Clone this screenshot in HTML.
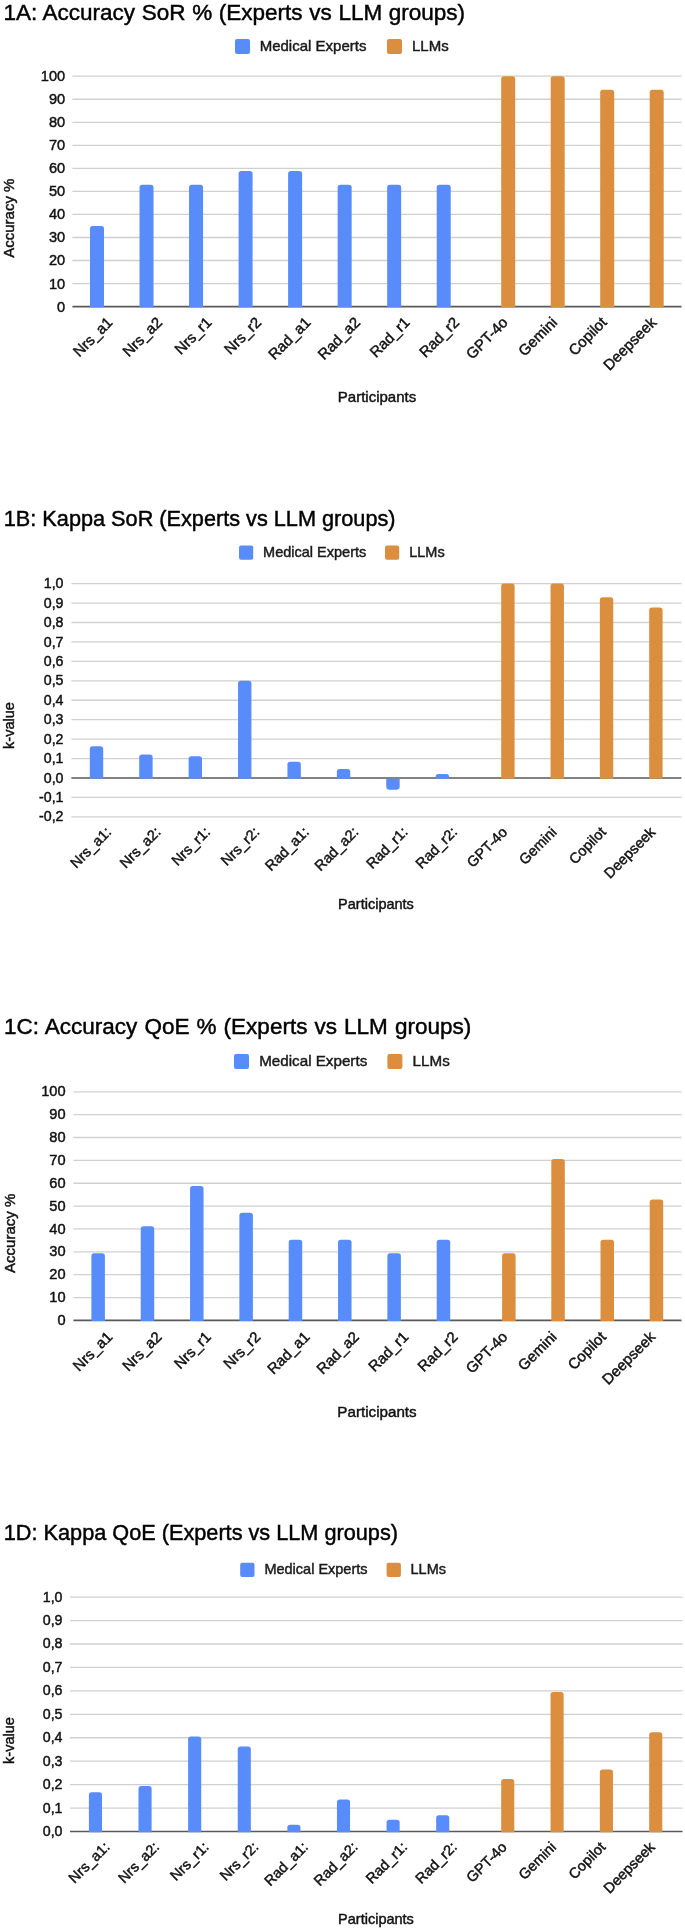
<!DOCTYPE html>
<html><head><meta charset="utf-8"><title>Experts vs LLM groups</title>
<style>
html,body{margin:0;padding:0;background:#fff;}
body{width:685px;height:1930px;overflow:hidden;}
svg{display:block;font-family:"Liberation Sans", sans-serif;}
text{stroke-width:0.45px;}
svg{filter:blur(0.3px);}
</style></head><body>
<svg width="685" height="1930" viewBox="0 0 685 1930">
<rect width="685" height="1930" fill="#fff"/>
<text x="3.4" y="19.8" font-size="22.5" word-spacing="0.4" fill="#000" stroke="#000">1A: Accuracy SoR % (Experts vs LLM groups)</text>
<rect x="235" y="39" width="15" height="15" rx="2" fill="#588cfb"/>
<text x="259.7" y="51.2" font-size="15" fill="#1a1a1a" stroke="#1a1a1a">Medical Experts</text>
<rect x="387" y="39" width="15" height="15" rx="2" fill="#da8e3e"/>
<text x="412" y="51.2" font-size="15" fill="#1a1a1a" stroke="#1a1a1a">LLMs</text>
<text x="65.2" y="311.56" font-size="14.6" text-anchor="end" fill="#111111" stroke="#111111">0</text>
<line x1="72.4" x2="681.5" y1="283.56" y2="283.56" stroke="#d0d0d0" stroke-width="1.3"/>
<text x="65.2" y="288.52" font-size="14.6" text-anchor="end" fill="#111111" stroke="#111111">10</text>
<line x1="72.4" x2="681.5" y1="260.52" y2="260.52" stroke="#d0d0d0" stroke-width="1.3"/>
<text x="65.2" y="265.48" font-size="14.6" text-anchor="end" fill="#111111" stroke="#111111">20</text>
<line x1="72.4" x2="681.5" y1="237.48" y2="237.48" stroke="#d0d0d0" stroke-width="1.3"/>
<text x="65.2" y="242.44" font-size="14.6" text-anchor="end" fill="#111111" stroke="#111111">30</text>
<line x1="72.4" x2="681.5" y1="214.44" y2="214.44" stroke="#d0d0d0" stroke-width="1.3"/>
<text x="65.2" y="219.4" font-size="14.6" text-anchor="end" fill="#111111" stroke="#111111">40</text>
<line x1="72.4" x2="681.5" y1="191.4" y2="191.4" stroke="#d0d0d0" stroke-width="1.3"/>
<text x="65.2" y="196.36" font-size="14.6" text-anchor="end" fill="#111111" stroke="#111111">50</text>
<line x1="72.4" x2="681.5" y1="168.36" y2="168.36" stroke="#d0d0d0" stroke-width="1.3"/>
<text x="65.2" y="173.32" font-size="14.6" text-anchor="end" fill="#111111" stroke="#111111">60</text>
<line x1="72.4" x2="681.5" y1="145.32" y2="145.32" stroke="#d0d0d0" stroke-width="1.3"/>
<text x="65.2" y="150.28" font-size="14.6" text-anchor="end" fill="#111111" stroke="#111111">70</text>
<line x1="72.4" x2="681.5" y1="122.28" y2="122.28" stroke="#d0d0d0" stroke-width="1.3"/>
<text x="65.2" y="127.24" font-size="14.6" text-anchor="end" fill="#111111" stroke="#111111">80</text>
<line x1="72.4" x2="681.5" y1="99.24" y2="99.24" stroke="#d0d0d0" stroke-width="1.3"/>
<text x="65.2" y="104.2" font-size="14.6" text-anchor="end" fill="#111111" stroke="#111111">90</text>
<line x1="72.4" x2="681.5" y1="76.2" y2="76.2" stroke="#d0d0d0" stroke-width="1.3"/>
<text x="65.2" y="81.16" font-size="14.6" text-anchor="end" fill="#111111" stroke="#111111">100</text>
<line x1="72.4" x2="681.5" y1="306.6" y2="306.6" stroke="#595959" stroke-width="1.6"/>
<path d="M90,307.3 V228.76 Q90,225.96 92.8,225.96 H101.2 Q104,225.96 104,228.76 V307.3 Z" fill="#588cfb"/>
<path d="M139.53,307.3 V187.52 Q139.53,184.72 142.33,184.72 H150.73 Q153.53,184.72 153.53,187.52 V307.3 Z" fill="#588cfb"/>
<path d="M189.06,307.3 V187.52 Q189.06,184.72 191.86,184.72 H200.26 Q203.06,184.72 203.06,187.52 V307.3 Z" fill="#588cfb"/>
<path d="M238.59,307.3 V173.92 Q238.59,171.12 241.39,171.12 H249.79 Q252.59,171.12 252.59,173.92 V307.3 Z" fill="#588cfb"/>
<path d="M288.12,307.3 V173.92 Q288.12,171.12 290.92,171.12 H299.32 Q302.12,171.12 302.12,173.92 V307.3 Z" fill="#588cfb"/>
<path d="M337.65,307.3 V187.52 Q337.65,184.72 340.45,184.72 H348.85 Q351.65,184.72 351.65,187.52 V307.3 Z" fill="#588cfb"/>
<path d="M387.18,307.3 V187.52 Q387.18,184.72 389.98,184.72 H398.38 Q401.18,184.72 401.18,187.52 V307.3 Z" fill="#588cfb"/>
<path d="M436.71,307.3 V187.52 Q436.71,184.72 439.51,184.72 H447.91 Q450.71,184.72 450.71,187.52 V307.3 Z" fill="#588cfb"/>
<path d="M501.2,307.3 V79 Q501.2,76.2 504,76.2 H512.4 Q515.2,76.2 515.2,79 V307.3 Z" fill="#da8e3e"/>
<path d="M550.7,307.3 V79 Q550.7,76.2 553.5,76.2 H561.9 Q564.7,76.2 564.7,79 V307.3 Z" fill="#da8e3e"/>
<path d="M600.2,307.3 V92.59 Q600.2,89.79 603,89.79 H611.4 Q614.2,89.79 614.2,92.59 V307.3 Z" fill="#da8e3e"/>
<path d="M649.7,307.3 V92.59 Q649.7,89.79 652.5,89.79 H660.9 Q663.7,89.79 663.7,92.59 V307.3 Z" fill="#da8e3e"/>
<text transform="translate(113.5,323.4) rotate(-45)" text-anchor="end" font-size="15" fill="#111111" stroke="#111111">Nrs_a1</text>
<text transform="translate(163.03,323.4) rotate(-45)" text-anchor="end" font-size="15" fill="#111111" stroke="#111111">Nrs_a2</text>
<text transform="translate(212.56,323.4) rotate(-45)" text-anchor="end" font-size="15" fill="#111111" stroke="#111111">Nrs_r1</text>
<text transform="translate(262.09,323.4) rotate(-45)" text-anchor="end" font-size="15" fill="#111111" stroke="#111111">Nrs_r2</text>
<text transform="translate(311.62,323.4) rotate(-45)" text-anchor="end" font-size="15" fill="#111111" stroke="#111111">Rad_a1</text>
<text transform="translate(361.15,323.4) rotate(-45)" text-anchor="end" font-size="15" fill="#111111" stroke="#111111">Rad_a2</text>
<text transform="translate(410.68,323.4) rotate(-45)" text-anchor="end" font-size="15" fill="#111111" stroke="#111111">Rad_r1</text>
<text transform="translate(460.21,323.4) rotate(-45)" text-anchor="end" font-size="15" fill="#111111" stroke="#111111">Rad_r2</text>
<text transform="translate(508.7,323.4) rotate(-45)" text-anchor="end" font-size="15" fill="#111111" stroke="#111111">GPT-4o</text>
<text transform="translate(558.2,323.4) rotate(-45)" text-anchor="end" font-size="15" fill="#111111" stroke="#111111">Gemini</text>
<text transform="translate(607.7,323.4) rotate(-45)" text-anchor="end" font-size="15" fill="#111111" stroke="#111111">Copilot</text>
<text transform="translate(657.2,323.4) rotate(-45)" text-anchor="end" font-size="15" fill="#111111" stroke="#111111">Deepseek</text>
<text x="377" y="401.7" font-size="15" text-anchor="middle" fill="#111111" stroke="#111111">Participants</text>
<text transform="translate(14.1,218.2) rotate(-90)" text-anchor="middle" font-size="15" fill="#111111" stroke="#111111">Accuracy %</text>
<text x="3.8" y="526.3" font-size="21.7" word-spacing="0" fill="#000" stroke="#000">1B: Kappa SoR (Experts vs LLM groups)</text>
<rect x="239" y="545.6" width="14.2" height="14.2" rx="2" fill="#588cfb"/>
<text x="263.1" y="557.2" font-size="14.5" fill="#1a1a1a" stroke="#1a1a1a">Medical Experts</text>
<rect x="385" y="545.6" width="14.2" height="14.2" rx="2" fill="#da8e3e"/>
<text x="409.2" y="557.2" font-size="14.5" fill="#1a1a1a" stroke="#1a1a1a">LLMs</text>
<line x1="71.4" x2="681.5" y1="816.88" y2="816.88" stroke="#d0d0d0" stroke-width="1.3"/>
<text x="63.5" y="821.49" font-size="14.2" text-anchor="end" fill="#111111" stroke="#111111">-0,2</text>
<line x1="71.4" x2="681.5" y1="797.44" y2="797.44" stroke="#d0d0d0" stroke-width="1.3"/>
<text x="63.5" y="802.05" font-size="14.2" text-anchor="end" fill="#111111" stroke="#111111">-0,1</text>
<text x="63.5" y="782.61" font-size="14.2" text-anchor="end" fill="#111111" stroke="#111111">0,0</text>
<line x1="71.4" x2="681.5" y1="758.56" y2="758.56" stroke="#d0d0d0" stroke-width="1.3"/>
<text x="63.5" y="763.17" font-size="14.2" text-anchor="end" fill="#111111" stroke="#111111">0,1</text>
<line x1="71.4" x2="681.5" y1="739.12" y2="739.12" stroke="#d0d0d0" stroke-width="1.3"/>
<text x="63.5" y="743.73" font-size="14.2" text-anchor="end" fill="#111111" stroke="#111111">0,2</text>
<line x1="71.4" x2="681.5" y1="719.68" y2="719.68" stroke="#d0d0d0" stroke-width="1.3"/>
<text x="63.5" y="724.29" font-size="14.2" text-anchor="end" fill="#111111" stroke="#111111">0,3</text>
<line x1="71.4" x2="681.5" y1="700.24" y2="700.24" stroke="#d0d0d0" stroke-width="1.3"/>
<text x="63.5" y="704.85" font-size="14.2" text-anchor="end" fill="#111111" stroke="#111111">0,4</text>
<line x1="71.4" x2="681.5" y1="680.8" y2="680.8" stroke="#d0d0d0" stroke-width="1.3"/>
<text x="63.5" y="685.41" font-size="14.2" text-anchor="end" fill="#111111" stroke="#111111">0,5</text>
<line x1="71.4" x2="681.5" y1="661.36" y2="661.36" stroke="#d0d0d0" stroke-width="1.3"/>
<text x="63.5" y="665.97" font-size="14.2" text-anchor="end" fill="#111111" stroke="#111111">0,6</text>
<line x1="71.4" x2="681.5" y1="641.92" y2="641.92" stroke="#d0d0d0" stroke-width="1.3"/>
<text x="63.5" y="646.53" font-size="14.2" text-anchor="end" fill="#111111" stroke="#111111">0,7</text>
<line x1="71.4" x2="681.5" y1="622.48" y2="622.48" stroke="#d0d0d0" stroke-width="1.3"/>
<text x="63.5" y="627.09" font-size="14.2" text-anchor="end" fill="#111111" stroke="#111111">0,8</text>
<line x1="71.4" x2="681.5" y1="603.04" y2="603.04" stroke="#d0d0d0" stroke-width="1.3"/>
<text x="63.5" y="607.65" font-size="14.2" text-anchor="end" fill="#111111" stroke="#111111">0,9</text>
<line x1="71.4" x2="681.5" y1="583.6" y2="583.6" stroke="#d0d0d0" stroke-width="1.3"/>
<text x="63.5" y="588.21" font-size="14.2" text-anchor="end" fill="#111111" stroke="#111111">1,0</text>
<line x1="71.4" x2="681.5" y1="778" y2="778" stroke="#595959" stroke-width="1.6"/>
<path d="M89.8,778.7 V749.11 Q89.8,746.31 92.6,746.31 H100.4 Q103.2,746.31 103.2,749.11 V778.7 Z" fill="#588cfb"/>
<path d="M139.21,778.7 V757.28 Q139.21,754.48 142.01,754.48 H149.81 Q152.61,754.48 152.61,757.28 V778.7 Z" fill="#588cfb"/>
<path d="M188.62,778.7 V759.03 Q188.62,756.23 191.42,756.23 H199.22 Q202.02,756.23 202.02,759.03 V778.7 Z" fill="#588cfb"/>
<path d="M238.03,778.7 V683.6 Q238.03,680.8 240.83,680.8 H248.63 Q251.43,680.8 251.43,683.6 V778.7 Z" fill="#588cfb"/>
<path d="M287.44,778.7 V764.66 Q287.44,761.86 290.24,761.86 H298.04 Q300.84,761.86 300.84,764.66 V778.7 Z" fill="#588cfb"/>
<path d="M336.85,778.7 V771.86 Q336.85,769.06 339.65,769.06 H347.45 Q350.25,769.06 350.25,771.86 V778.7 Z" fill="#588cfb"/>
<path d="M386.26,778.7 V786.86 Q386.26,789.66 389.06,789.66 H396.86 Q399.66,789.66 399.66,786.86 V778.7 Z" fill="#588cfb"/>
<path d="M435.67,778.7 V776.72 Q435.67,773.92 438.47,773.92 H446.27 Q449.07,773.92 449.07,776.72 V778.7 Z" fill="#588cfb"/>
<path d="M501.2,778.7 V586.4 Q501.2,583.6 504,583.6 H511.8 Q514.6,583.6 514.6,586.4 V778.7 Z" fill="#da8e3e"/>
<path d="M550.53,778.7 V586.4 Q550.53,583.6 553.33,583.6 H561.13 Q563.93,583.6 563.93,586.4 V778.7 Z" fill="#da8e3e"/>
<path d="M599.86,778.7 V600.01 Q599.86,597.21 602.66,597.21 H610.46 Q613.26,597.21 613.26,600.01 V778.7 Z" fill="#da8e3e"/>
<path d="M649.19,778.7 V610.31 Q649.19,607.51 651.99,607.51 H659.79 Q662.59,607.51 662.59,610.31 V778.7 Z" fill="#da8e3e"/>
<text transform="translate(112.2,833) rotate(-45)" text-anchor="end" font-size="14.5" fill="#111111" stroke="#111111">Nrs_a1:</text>
<text transform="translate(161.61,833) rotate(-45)" text-anchor="end" font-size="14.5" fill="#111111" stroke="#111111">Nrs_a2:</text>
<text transform="translate(211.02,833) rotate(-45)" text-anchor="end" font-size="14.5" fill="#111111" stroke="#111111">Nrs_r1:</text>
<text transform="translate(260.43,833) rotate(-45)" text-anchor="end" font-size="14.5" fill="#111111" stroke="#111111">Nrs_r2:</text>
<text transform="translate(309.84,833) rotate(-45)" text-anchor="end" font-size="14.5" fill="#111111" stroke="#111111">Rad_a1:</text>
<text transform="translate(359.25,833) rotate(-45)" text-anchor="end" font-size="14.5" fill="#111111" stroke="#111111">Rad_a2:</text>
<text transform="translate(408.66,833) rotate(-45)" text-anchor="end" font-size="14.5" fill="#111111" stroke="#111111">Rad_r1:</text>
<text transform="translate(458.07,833) rotate(-45)" text-anchor="end" font-size="14.5" fill="#111111" stroke="#111111">Rad_r2:</text>
<text transform="translate(508.2,833) rotate(-45)" text-anchor="end" font-size="14.5" fill="#111111" stroke="#111111">GPT-4o</text>
<text transform="translate(557.53,833) rotate(-45)" text-anchor="end" font-size="14.5" fill="#111111" stroke="#111111">Gemini</text>
<text transform="translate(606.86,833) rotate(-45)" text-anchor="end" font-size="14.5" fill="#111111" stroke="#111111">Copilot</text>
<text transform="translate(656.19,833) rotate(-45)" text-anchor="end" font-size="14.5" fill="#111111" stroke="#111111">Deepseek</text>
<text x="376" y="908.5" font-size="14.5" text-anchor="middle" fill="#111111" stroke="#111111">Participants</text>
<text transform="translate(14,725.5) rotate(-90)" text-anchor="middle" font-size="14.5" fill="#111111" stroke="#111111">k-value</text>
<text x="3.9" y="1033.5" font-size="22.5" word-spacing="0.85" fill="#000" stroke="#000">1C: Accuracy QoE % (Experts vs LLM groups)</text>
<rect x="234" y="1054" width="15" height="15" rx="2" fill="#588cfb"/>
<text x="259.2" y="1065.8" font-size="15.2" fill="#1a1a1a" stroke="#1a1a1a">Medical Experts</text>
<rect x="387.4" y="1054" width="15" height="15" rx="2" fill="#da8e3e"/>
<text x="412.6" y="1065.8" font-size="15.2" fill="#1a1a1a" stroke="#1a1a1a">LLMs</text>
<text x="65.6" y="1325.06" font-size="14.6" text-anchor="end" fill="#111111" stroke="#111111">0</text>
<line x1="73.4" x2="681.5" y1="1297.54" y2="1297.54" stroke="#d0d0d0" stroke-width="1.3"/>
<text x="65.6" y="1302.2" font-size="14.6" text-anchor="end" fill="#111111" stroke="#111111">10</text>
<line x1="73.4" x2="681.5" y1="1274.68" y2="1274.68" stroke="#d0d0d0" stroke-width="1.3"/>
<text x="65.6" y="1279.34" font-size="14.6" text-anchor="end" fill="#111111" stroke="#111111">20</text>
<line x1="73.4" x2="681.5" y1="1251.82" y2="1251.82" stroke="#d0d0d0" stroke-width="1.3"/>
<text x="65.6" y="1256.48" font-size="14.6" text-anchor="end" fill="#111111" stroke="#111111">30</text>
<line x1="73.4" x2="681.5" y1="1228.96" y2="1228.96" stroke="#d0d0d0" stroke-width="1.3"/>
<text x="65.6" y="1233.62" font-size="14.6" text-anchor="end" fill="#111111" stroke="#111111">40</text>
<line x1="73.4" x2="681.5" y1="1206.1" y2="1206.1" stroke="#d0d0d0" stroke-width="1.3"/>
<text x="65.6" y="1210.76" font-size="14.6" text-anchor="end" fill="#111111" stroke="#111111">50</text>
<line x1="73.4" x2="681.5" y1="1183.24" y2="1183.24" stroke="#d0d0d0" stroke-width="1.3"/>
<text x="65.6" y="1187.9" font-size="14.6" text-anchor="end" fill="#111111" stroke="#111111">60</text>
<line x1="73.4" x2="681.5" y1="1160.38" y2="1160.38" stroke="#d0d0d0" stroke-width="1.3"/>
<text x="65.6" y="1165.04" font-size="14.6" text-anchor="end" fill="#111111" stroke="#111111">70</text>
<line x1="73.4" x2="681.5" y1="1137.52" y2="1137.52" stroke="#d0d0d0" stroke-width="1.3"/>
<text x="65.6" y="1142.18" font-size="14.6" text-anchor="end" fill="#111111" stroke="#111111">80</text>
<line x1="73.4" x2="681.5" y1="1114.66" y2="1114.66" stroke="#d0d0d0" stroke-width="1.3"/>
<text x="65.6" y="1119.32" font-size="14.6" text-anchor="end" fill="#111111" stroke="#111111">90</text>
<line x1="73.4" x2="681.5" y1="1091.8" y2="1091.8" stroke="#d0d0d0" stroke-width="1.3"/>
<text x="65.6" y="1096.46" font-size="14.6" text-anchor="end" fill="#111111" stroke="#111111">100</text>
<line x1="73.4" x2="681.5" y1="1320.4" y2="1320.4" stroke="#595959" stroke-width="1.6"/>
<path d="M91.4,1321.1 V1255.99 Q91.4,1253.19 94.2,1253.19 H102.1 Q104.9,1253.19 104.9,1255.99 V1321.1 Z" fill="#588cfb"/>
<path d="M140.73,1321.1 V1229.02 Q140.73,1226.22 143.53,1226.22 H151.43 Q154.23,1226.22 154.23,1229.02 V1321.1 Z" fill="#588cfb"/>
<path d="M190.06,1321.1 V1188.78 Q190.06,1185.98 192.86,1185.98 H200.76 Q203.56,1185.98 203.56,1188.78 V1321.1 Z" fill="#588cfb"/>
<path d="M239.39,1321.1 V1215.53 Q239.39,1212.73 242.19,1212.73 H250.09 Q252.89,1212.73 252.89,1215.53 V1321.1 Z" fill="#588cfb"/>
<path d="M288.72,1321.1 V1242.5 Q288.72,1239.7 291.52,1239.7 H299.42 Q302.22,1239.7 302.22,1242.5 V1321.1 Z" fill="#588cfb"/>
<path d="M338.05,1321.1 V1242.5 Q338.05,1239.7 340.85,1239.7 H348.75 Q351.55,1239.7 351.55,1242.5 V1321.1 Z" fill="#588cfb"/>
<path d="M387.38,1321.1 V1255.99 Q387.38,1253.19 390.18,1253.19 H398.08 Q400.88,1253.19 400.88,1255.99 V1321.1 Z" fill="#588cfb"/>
<path d="M436.71,1321.1 V1242.5 Q436.71,1239.7 439.51,1239.7 H447.41 Q450.21,1239.7 450.21,1242.5 V1321.1 Z" fill="#588cfb"/>
<path d="M502.1,1321.1 V1255.99 Q502.1,1253.19 504.9,1253.19 H512.8 Q515.6,1253.19 515.6,1255.99 V1321.1 Z" fill="#da8e3e"/>
<path d="M551.3,1321.1 V1161.81 Q551.3,1159.01 554.1,1159.01 H562 Q564.8,1159.01 564.8,1161.81 V1321.1 Z" fill="#da8e3e"/>
<path d="M600.5,1321.1 V1242.5 Q600.5,1239.7 603.3,1239.7 H611.2 Q614,1239.7 614,1242.5 V1321.1 Z" fill="#da8e3e"/>
<path d="M649.7,1321.1 V1202.27 Q649.7,1199.47 652.5,1199.47 H660.4 Q663.2,1199.47 663.2,1202.27 V1321.1 Z" fill="#da8e3e"/>
<text transform="translate(113.3,1337.8) rotate(-45)" text-anchor="end" font-size="15" fill="#111111" stroke="#111111">Nrs_a1</text>
<text transform="translate(162.63,1337.8) rotate(-45)" text-anchor="end" font-size="15" fill="#111111" stroke="#111111">Nrs_a2</text>
<text transform="translate(211.96,1337.8) rotate(-45)" text-anchor="end" font-size="15" fill="#111111" stroke="#111111">Nrs_r1</text>
<text transform="translate(261.29,1337.8) rotate(-45)" text-anchor="end" font-size="15" fill="#111111" stroke="#111111">Nrs_r2</text>
<text transform="translate(310.62,1337.8) rotate(-45)" text-anchor="end" font-size="15" fill="#111111" stroke="#111111">Rad_a1</text>
<text transform="translate(359.95,1337.8) rotate(-45)" text-anchor="end" font-size="15" fill="#111111" stroke="#111111">Rad_a2</text>
<text transform="translate(409.28,1337.8) rotate(-45)" text-anchor="end" font-size="15" fill="#111111" stroke="#111111">Rad_r1</text>
<text transform="translate(458.61,1337.8) rotate(-45)" text-anchor="end" font-size="15" fill="#111111" stroke="#111111">Rad_r2</text>
<text transform="translate(508.5,1337.8) rotate(-45)" text-anchor="end" font-size="15" fill="#111111" stroke="#111111">GPT-4o</text>
<text transform="translate(557.7,1337.8) rotate(-45)" text-anchor="end" font-size="15" fill="#111111" stroke="#111111">Gemini</text>
<text transform="translate(606.9,1337.8) rotate(-45)" text-anchor="end" font-size="15" fill="#111111" stroke="#111111">Copilot</text>
<text transform="translate(656.1,1337.8) rotate(-45)" text-anchor="end" font-size="15" fill="#111111" stroke="#111111">Deepseek</text>
<text x="377" y="1416.7" font-size="15.2" text-anchor="middle" fill="#111111" stroke="#111111">Participants</text>
<text transform="translate(14.6,1233.3) rotate(-90)" text-anchor="middle" font-size="15" fill="#111111" stroke="#111111">Accuracy %</text>
<text x="3.8" y="1540.1" font-size="21.7" word-spacing="0" fill="#000" stroke="#000">1D: Kappa QoE (Experts vs LLM groups)</text>
<rect x="240.2" y="1562.7" width="14.3" height="14.3" rx="2" fill="#588cfb"/>
<text x="264.4" y="1574" font-size="14.5" fill="#1a1a1a" stroke="#1a1a1a">Medical Experts</text>
<rect x="386.6" y="1562.7" width="14.3" height="14.3" rx="2" fill="#da8e3e"/>
<text x="410.5" y="1574" font-size="14.5" fill="#1a1a1a" stroke="#1a1a1a">LLMs</text>
<text x="62.5" y="1836.01" font-size="14.2" text-anchor="end" fill="#111111" stroke="#111111">0,0</text>
<line x1="70" x2="682.5" y1="1808.06" y2="1808.06" stroke="#d0d0d0" stroke-width="1.3"/>
<text x="62.5" y="1812.57" font-size="14.2" text-anchor="end" fill="#111111" stroke="#111111">0,1</text>
<line x1="70" x2="682.5" y1="1784.62" y2="1784.62" stroke="#d0d0d0" stroke-width="1.3"/>
<text x="62.5" y="1789.13" font-size="14.2" text-anchor="end" fill="#111111" stroke="#111111">0,2</text>
<line x1="70" x2="682.5" y1="1761.18" y2="1761.18" stroke="#d0d0d0" stroke-width="1.3"/>
<text x="62.5" y="1765.69" font-size="14.2" text-anchor="end" fill="#111111" stroke="#111111">0,3</text>
<line x1="70" x2="682.5" y1="1737.74" y2="1737.74" stroke="#d0d0d0" stroke-width="1.3"/>
<text x="62.5" y="1742.25" font-size="14.2" text-anchor="end" fill="#111111" stroke="#111111">0,4</text>
<line x1="70" x2="682.5" y1="1714.3" y2="1714.3" stroke="#d0d0d0" stroke-width="1.3"/>
<text x="62.5" y="1718.81" font-size="14.2" text-anchor="end" fill="#111111" stroke="#111111">0,5</text>
<line x1="70" x2="682.5" y1="1690.86" y2="1690.86" stroke="#d0d0d0" stroke-width="1.3"/>
<text x="62.5" y="1695.37" font-size="14.2" text-anchor="end" fill="#111111" stroke="#111111">0,6</text>
<line x1="70" x2="682.5" y1="1667.42" y2="1667.42" stroke="#d0d0d0" stroke-width="1.3"/>
<text x="62.5" y="1671.93" font-size="14.2" text-anchor="end" fill="#111111" stroke="#111111">0,7</text>
<line x1="70" x2="682.5" y1="1643.98" y2="1643.98" stroke="#d0d0d0" stroke-width="1.3"/>
<text x="62.5" y="1648.49" font-size="14.2" text-anchor="end" fill="#111111" stroke="#111111">0,8</text>
<line x1="70" x2="682.5" y1="1620.54" y2="1620.54" stroke="#d0d0d0" stroke-width="1.3"/>
<text x="62.5" y="1625.05" font-size="14.2" text-anchor="end" fill="#111111" stroke="#111111">0,9</text>
<line x1="70" x2="682.5" y1="1597.1" y2="1597.1" stroke="#d0d0d0" stroke-width="1.3"/>
<text x="62.5" y="1601.61" font-size="14.2" text-anchor="end" fill="#111111" stroke="#111111">1,0</text>
<line x1="70" x2="682.5" y1="1831.5" y2="1831.5" stroke="#595959" stroke-width="1.6"/>
<path d="M88.9,1832.2 V1795.16 Q88.9,1792.36 91.7,1792.36 H99.2 Q102,1792.36 102,1795.16 V1832.2 Z" fill="#588cfb"/>
<path d="M138.51,1832.2 V1788.83 Q138.51,1786.03 141.31,1786.03 H148.81 Q151.61,1786.03 151.61,1788.83 V1832.2 Z" fill="#588cfb"/>
<path d="M188.12,1832.2 V1739.37 Q188.12,1736.57 190.92,1736.57 H198.42 Q201.22,1736.57 201.22,1739.37 V1832.2 Z" fill="#588cfb"/>
<path d="M237.73,1832.2 V1749.21 Q237.73,1746.41 240.53,1746.41 H248.03 Q250.83,1746.41 250.83,1749.21 V1832.2 Z" fill="#588cfb"/>
<path d="M287.34,1832.2 V1827.5 Q287.34,1824.7 290.14,1824.7 H297.64 Q300.44,1824.7 300.44,1827.5 V1832.2 Z" fill="#588cfb"/>
<path d="M336.95,1832.2 V1802.19 Q336.95,1799.39 339.75,1799.39 H347.25 Q350.05,1799.39 350.05,1802.19 V1832.2 Z" fill="#588cfb"/>
<path d="M386.56,1832.2 V1822.58 Q386.56,1819.78 389.36,1819.78 H396.86 Q399.66,1819.78 399.66,1822.58 V1832.2 Z" fill="#588cfb"/>
<path d="M436.17,1832.2 V1818.13 Q436.17,1815.33 438.97,1815.33 H446.47 Q449.27,1815.33 449.27,1818.13 V1832.2 Z" fill="#588cfb"/>
<path d="M501.2,1832.2 V1781.79 Q501.2,1778.99 504,1778.99 H511.5 Q514.3,1778.99 514.3,1781.79 V1832.2 Z" fill="#da8e3e"/>
<path d="M550.53,1832.2 V1694.83 Q550.53,1692.03 553.33,1692.03 H560.83 Q563.63,1692.03 563.63,1694.83 V1832.2 Z" fill="#da8e3e"/>
<path d="M599.86,1832.2 V1772.18 Q599.86,1769.38 602.66,1769.38 H610.16 Q612.96,1769.38 612.96,1772.18 V1832.2 Z" fill="#da8e3e"/>
<path d="M649.19,1832.2 V1735.15 Q649.19,1732.35 651.99,1732.35 H659.49 Q662.29,1732.35 662.29,1735.15 V1832.2 Z" fill="#da8e3e"/>
<text transform="translate(110.5,1848) rotate(-45)" text-anchor="end" font-size="14.5" fill="#111111" stroke="#111111">Nrs_a1:</text>
<text transform="translate(160.11,1848) rotate(-45)" text-anchor="end" font-size="14.5" fill="#111111" stroke="#111111">Nrs_a2:</text>
<text transform="translate(209.72,1848) rotate(-45)" text-anchor="end" font-size="14.5" fill="#111111" stroke="#111111">Nrs_r1:</text>
<text transform="translate(259.33,1848) rotate(-45)" text-anchor="end" font-size="14.5" fill="#111111" stroke="#111111">Nrs_r2:</text>
<text transform="translate(308.94,1848) rotate(-45)" text-anchor="end" font-size="14.5" fill="#111111" stroke="#111111">Rad_a1:</text>
<text transform="translate(358.55,1848) rotate(-45)" text-anchor="end" font-size="14.5" fill="#111111" stroke="#111111">Rad_a2:</text>
<text transform="translate(408.16,1848) rotate(-45)" text-anchor="end" font-size="14.5" fill="#111111" stroke="#111111">Rad_r1:</text>
<text transform="translate(457.77,1848) rotate(-45)" text-anchor="end" font-size="14.5" fill="#111111" stroke="#111111">Rad_r2:</text>
<text transform="translate(507.7,1848) rotate(-45)" text-anchor="end" font-size="14.5" fill="#111111" stroke="#111111">GPT-4o</text>
<text transform="translate(557.03,1848) rotate(-45)" text-anchor="end" font-size="14.5" fill="#111111" stroke="#111111">Gemini</text>
<text transform="translate(606.36,1848) rotate(-45)" text-anchor="end" font-size="14.5" fill="#111111" stroke="#111111">Copilot</text>
<text transform="translate(655.69,1848) rotate(-45)" text-anchor="end" font-size="14.5" fill="#111111" stroke="#111111">Deepseek</text>
<text x="376" y="1924.1" font-size="14.5" text-anchor="middle" fill="#111111" stroke="#111111">Participants</text>
<text transform="translate(14,1740.5) rotate(-90)" text-anchor="middle" font-size="14.5" fill="#111111" stroke="#111111">k-value</text>
</svg>
</body></html>
